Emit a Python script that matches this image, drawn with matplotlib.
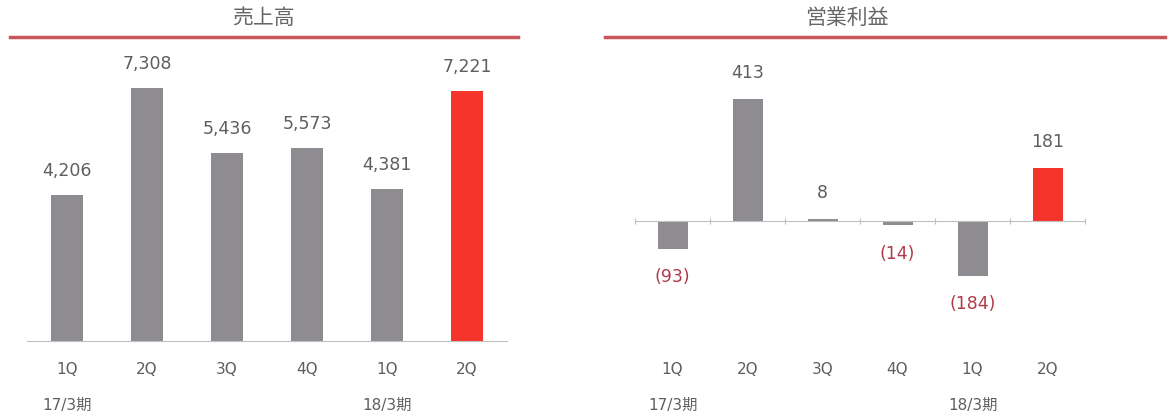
import matplotlib.pyplot as plt
from matplotlib.lines import Line2D

latin = ['DejaVu Sans']
mixed = ['DejaVu Sans', 'Noto Sans CJK JP']

quarters = ['1Q', '2Q', '3Q', '4Q', '1Q', '2Q']
periods = ['17/3期', '', '', '', '18/3期', '']
sales = [4206, 7308, 5436, 5573, 4381, 7221]
op_income = [-93, 413, 8, -14, -184, 181]

gray = '#8E8C90'
red = '#F5352B'
txt = '#5E5E5E'
neg_txt = '#B23A48'

fig = plt.figure(figsize=(11.68, 4.14), dpi=100)
ax1 = fig.add_axes([27 / 1168, 72 / 414, 480 / 1168, 304 / 414])
ax2 = fig.add_axes([635 / 1168, 72 / 414, 450 / 1168, 304 / 414])

x = list(range(len(quarters)))
colors = [gray] * 5 + [red]

# 売上高
ax1.bar(x, sales, width=0.4, color=colors)
ax1.set_xlim(-0.5, 5.5)
ax1.set_ylim(0, 8786)
for i, v in enumerate(sales):
    ax1.annotate(f'{v:,}', (i, v), xytext=(0, 18), textcoords='offset points',
                 ha='center', va='center', fontsize=12.5, color=txt, family=latin)
ax1.spines['bottom'].set_color('#BFBFBF')
ax1.set_xticks([])

# 営業利益
ax2.bar(x, op_income, width=0.4, color=colors)
ax2.set_xlim(-0.5, 5.5)
ax2.set_ylim(-405, 622)
for i, v in enumerate(op_income):
    if v >= 0:
        ax2.annotate(f'{v:,}', (i, v), xytext=(0, 19), textcoords='offset points',
                     ha='center', va='center', fontsize=12.5, color=txt, family=latin)
    else:
        ax2.annotate(f'({-v:,})', (i, v), xytext=(0, -20), textcoords='offset points',
                     ha='center', va='center', fontsize=12.5, color=neg_txt, family=latin)
ax2.spines['bottom'].set_position(('data', 0))
ax2.spines['bottom'].set_color('#BFBFBF')
ax2.set_xticks([i - 0.5 for i in range(7)])
ax2.set_xticklabels([])
ax2.tick_params(axis='x', direction='inout', length=5, color='#BFBFBF')

for ax in (ax1, ax2):
    for s in ('top', 'left', 'right'):
        ax.spines[s].set_visible(False)
    ax.set_yticks([])
    for i in x:
        ax.text(i, -0.092, quarters[i], transform=ax.get_xaxis_transform(),
                ha='center', va='center', fontsize=11, color=txt, family=latin)
        if periods[i]:
            ax.text(i, -0.207, periods[i], transform=ax.get_xaxis_transform(),
                    ha='center', va='center', fontsize=11, color=txt, family=mixed)

# title bars
for x0, x1, xc, title in [(10, 518, 263, '売上高'), (605, 1165, 847, '営業利益')]:
    fig.add_artist(Line2D([x0 / 1168, x1 / 1168], [376 / 414, 376 / 414],
                          color='#C9565A', lw=2.5))
    fig.text(xc / 1168, 396 / 414, title, ha='center', va='center',
             fontsize=15, color='#666666', family=['Noto Sans CJK JP'])

fig.savefig('out.png', dpi=100)
